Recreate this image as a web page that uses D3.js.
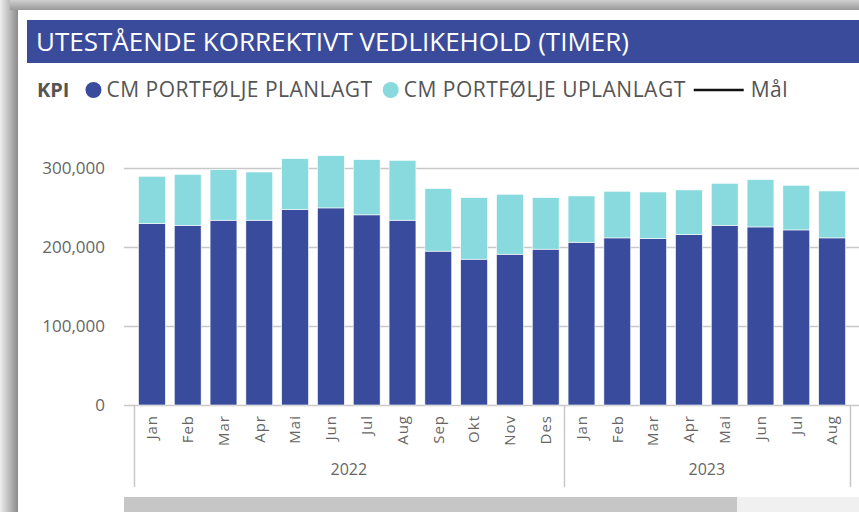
<!DOCTYPE html>
<html>
<head>
<meta charset="utf-8">
<script src="https://cdn.jsdelivr.net/npm/d3@7"></script>
<style>
  body { margin: 0; background: #fff; }
  text { font-family: "Segoe UI", "Open Sans", sans-serif; }
</style>
</head>
<body>
<div id="chart"></div>
<script>
// data
var months = ["Jan", "Feb", "Mar", "Apr", "Mai", "Jun", "Jul", "Aug", "Sep", "Okt", "Nov", "Des",
              "Jan", "Feb", "Mar", "Apr", "Mai", "Jun", "Jul", "Aug"];
var years = ["2022", "2022", "2022", "2022", "2022", "2022", "2022", "2022", "2022", "2022", "2022", "2022",
             "2023", "2023", "2023", "2023", "2023", "2023", "2023", "2023"];
var planlagt = [230000, 227800, 234200, 234200, 247700, 249800, 241000, 234200, 195000, 184800, 191100, 197500,
                206300, 211800, 211000, 216000, 227800, 225700, 221900, 211800];
var uplanlagt = [59900, 64600, 64100, 61100, 64500, 66200, 70000, 75900, 79300, 78100, 76000, 65400,
                 58700, 59100, 59000, 56600, 53200, 60000, 56600, 59500];
var yTicks = [0, 100000, 200000, 300000];
var seriesNames = ["CM PORTFØLJE PLANLAGT", "CM PORTFØLJE UPLANLAGT"];
var colors = ["#394b9c", "#88dade"];

var W = 859, H = 512;

var svg = d3.select("#chart").append("svg")
  .attr("width", W)
  .attr("height", H);

// gray frame / shadow round the visual
var defs = svg.append("defs");
var gLeft = defs.append("linearGradient").attr("id", "shadeLeft");
gLeft.append("stop").attr("offset", "0%").attr("stop-color", "#eeeeee");
gLeft.append("stop").attr("offset", "50%").attr("stop-color", "#bdbdbd");
gLeft.append("stop").attr("offset", "100%").attr("stop-color", "#8a8a8a");
var gTop = defs.append("linearGradient").attr("id", "shadeTop")
  .attr("x1", 0).attr("y1", 0).attr("x2", 0).attr("y2", 1);
gTop.append("stop").attr("offset", "0%").attr("stop-color", "#d0d0d0");
gTop.append("stop").attr("offset", "100%").attr("stop-color", "#999");

svg.append("rect").attr("x", 0).attr("y", 0).attr("width", 18).attr("height", H)
  .attr("fill", "url(#shadeLeft)");
svg.append("rect").attr("x", 10).attr("y", 0).attr("width", W - 10).attr("height", 10)
  .attr("fill", "url(#shadeTop)");
svg.append("rect").attr("x", 18).attr("y", 10).attr("width", W - 18).attr("height", H - 10)
  .attr("fill", "#fff");

// title bar
svg.append("rect")
  .attr("x", 27).attr("y", 20)
  .attr("width", W - 27).attr("height", 43)
  .attr("fill", "#3a4b9c");
svg.append("text")
  .attr("x", 36).attr("y", 51)
  .attr("fill", "#fff")
  .style("font-size", "26px")
  .text("UTESTÅENDE KORREKTIVT VEDLIKEHOLD (TIMER)");

// legend
var legend = svg.append("g").attr("transform", "translate(0, 90)");
var kpi = legend.append("text")
  .attr("x", 37).attr("y", 0).attr("dy", "0.35em")
  .attr("fill", "#555")
  .style("font-size", "20px")
  .style("font-weight", "bold")
  .text("KPI");

var lx = 37 + kpi.node().getComputedTextLength() + 24;
seriesNames.forEach(function (name, i) {
  legend.append("circle").attr("cx", lx).attr("cy", 0).attr("r", 8).attr("fill", colors[i]);
  var t = legend.append("text")
    .attr("x", lx + 13).attr("y", 0).attr("dy", "0.35em")
    .attr("fill", "#555")
    .style("font-size", "21px")
    .style("letter-spacing", "0.5px")
    .text(name);
  lx = lx + 13 + t.node().getComputedTextLength() + 18;
});
legend.append("line")
  .attr("x1", lx - 10).attr("x2", lx + 40)
  .attr("y1", 0).attr("y2", 0)
  .attr("stroke", "#111").attr("stroke-width", 2.5);
legend.append("text")
  .attr("x", lx + 47).attr("y", 0).attr("dy", "0.35em")
  .attr("fill", "#555")
  .style("font-size", "21px")
  .style("letter-spacing", "0.5px")
  .text("Mål");

// scales
var x = d3.scaleBand()
  .domain(d3.range(months.length))
  .range([134, 850])
  .paddingInner(0.25)
  .paddingOuter(0.125);

var y = d3.scaleLinear().domain([0, 300000]).range([405, 168.3]);

// gridlines
svg.append("g")
  .selectAll("line")
  .data(yTicks)
  .join("line")
  .attr("x1", 124).attr("x2", W)
  .attr("y1", function (d) { return Math.round(y(d)) + 0.5; })
  .attr("y2", function (d) { return Math.round(y(d)) + 0.5; })
  .attr("stroke", "#c8c8c8")
  .attr("stroke-width", 1.5);

// y axis labels
svg.append("g")
  .selectAll("text")
  .data(yTicks)
  .join("text")
  .attr("x", 105)
  .attr("y", function (d) { return y(d); })
  .attr("dy", "0.35em")
  .attr("text-anchor", "end")
  .attr("fill", "#666")
  .style("font-size", "17px")
  .text(d3.format(","));

// stacked bars
var table = months.map(function (m, i) {
  return { i: i, planlagt: planlagt[i], uplanlagt: uplanlagt[i] };
});
var stack = d3.stack().keys(["planlagt", "uplanlagt"])(table);

svg.append("g")
  .selectAll("g")
  .data(stack)
  .join("g")
  .attr("fill", function (d, i) { return colors[i]; })
  .selectAll("rect")
  .data(function (d) { return d; })
  .join("rect")
  .attr("x", function (d) { return x(d.data.i); })
  .attr("width", x.bandwidth())
  .attr("y", function (d) { return y(d[1]); })
  .attr("height", function (d) { return y(d[0]) - y(d[1]); })
  .attr("stroke", "#fff")
  .attr("stroke-width", 0.6);

// month labels
svg.append("g")
  .selectAll("text")
  .data(months)
  .join("text")
  .attr("transform", function (d, i) {
    return "translate(" + (x(i) + x.bandwidth() / 2) + ",415) rotate(-90)";
  })
  .attr("dy", "0.35em")
  .attr("text-anchor", "end")
  .attr("fill", "#666")
  .style("font-size", "15px")
  .style("letter-spacing", "1px")
  .text(function (d) { return d; });

// year groups with separators
var yearGroups = Array.from(d3.group(d3.range(years.length), function (i) { return years[i]; }));
var bounds = [x.range()[0]];
yearGroups.forEach(function (g) {
  var last = g[1][g[1].length - 1];
  var edge = last === months.length - 1
    ? x.range()[1]
    : x(last) + x.bandwidth() + x.step() * x.paddingInner() / 2;
  bounds.push(edge);
});

svg.append("g")
  .selectAll("line")
  .data(bounds)
  .join("line")
  .attr("x1", function (d) { return Math.round(d) + 0.5; })
  .attr("x2", function (d) { return Math.round(d) + 0.5; })
  .attr("y1", 405).attr("y2", 487)
  .attr("stroke", "#c8c8c8")
  .attr("stroke-width", 1.5);

svg.append("g")
  .selectAll("text")
  .data(yearGroups)
  .join("text")
  .attr("x", function (g) {
    var first = g[1][0], last = g[1][g[1].length - 1];
    return (x(first) + x(last) + x.bandwidth()) / 2;
  })
  .attr("y", 469)
  .attr("dy", "0.35em")
  .attr("text-anchor", "middle")
  .attr("fill", "#666")
  .style("font-size", "16px")
  .text(function (g) { return g[0]; });

// scrollbar at the bottom
svg.append("rect").attr("x", 124).attr("y", 497).attr("width", W - 124).attr("height", 15).attr("fill", "#f0f0f0");
svg.append("rect").attr("x", 124).attr("y", 497).attr("width", 613).attr("height", 15).attr("fill", "#c6c6c6");
</script>
</body>
</html>
